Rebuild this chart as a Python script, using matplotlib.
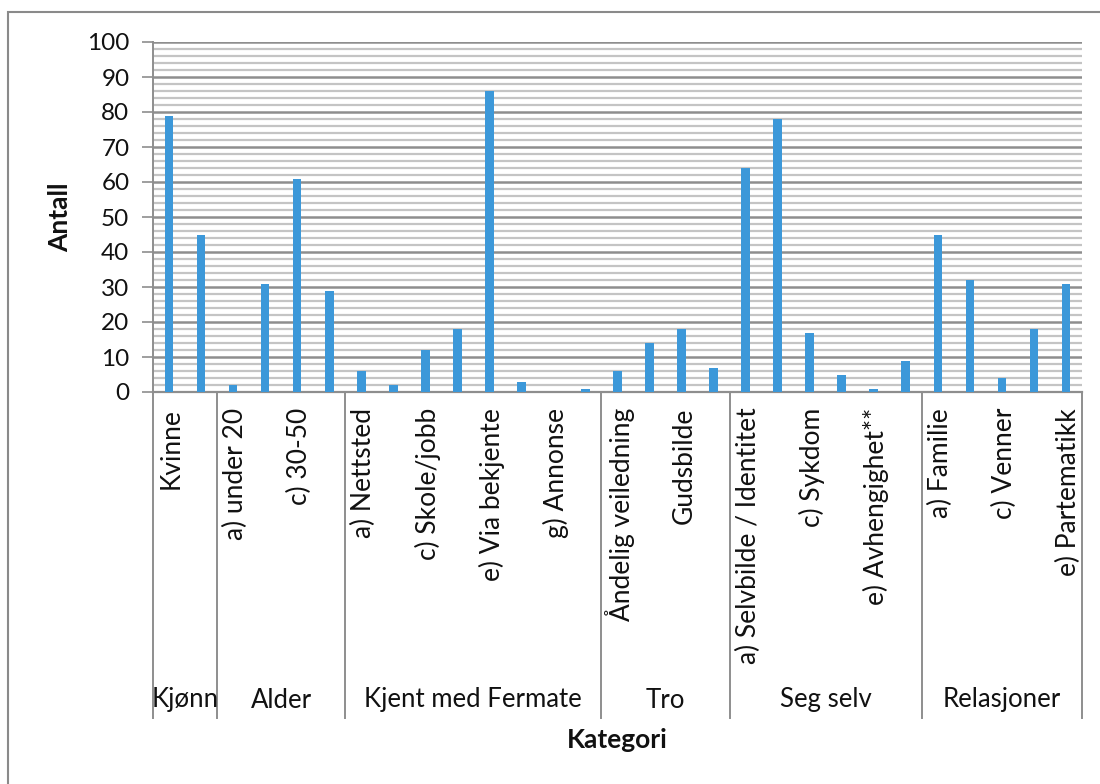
import matplotlib
matplotlib.use("Agg")
import matplotlib.pyplot as plt
from matplotlib.patches import Rectangle
import matplotlib.transforms as mtransforms

plt.rcParams['font.family'] = ['Lato', 'DejaVu Sans']

# ---- data ----
groups = ["Kjønn", "Alder", "Kjent med Fermate", "Tro", "Seg selv", "Relasjoner"]
kjonn_labels = ["Kvinne", "Mann"]
kjonn_values = [79, 45]
alder_labels = ["a) under 20", "b) 20-30", "c) 30-50", "d) over 50"]
alder_values = [2, 31, 61, 29]
kjent_labels = ["a) Nettsted", "b)", "c) Skole/jobb", "d)", "e) Via bekjente", "f)", "g) Annonse", "h)"]
kjent_values = [6, 2, 12, 18, 86, 3, 0, 1]
tro_labels = ["Åndelig veiledning", "b)", "Gudsbilde", "d)"]
tro_values = [6, 14, 18, 7]
seg_labels = ["a) Selvbilde / Identitet", "b)", "c) Sykdom", "d)", "e) Avhengighet**", "f)"]
seg_values = [64, 78, 17, 5, 1, 9]
rel_labels = ["a) Familie", "b)", "c) Venner", "d)", "e) Partematikk"]
rel_values = [45, 32, 4, 18, 31]

group_labels = [kjonn_labels, alder_labels, kjent_labels, tro_labels, seg_labels, rel_labels]
group_values = [kjonn_values, alder_values, kjent_values, tro_values, seg_values, rel_values]

labels = [l for g in group_labels for l in g]
values = [v for g in group_values for v in g]
sizes = [len(g) for g in group_labels]

BAR = "#3c98d9"
TXT = "#111111"
LINE = "#8e8e8e"

fig = plt.figure(figsize=(11, 7.84), dpi=100)
ax = fig.add_axes([153/1100, 0.5, 929/1100, 350/784])

x = list(range(len(values)))
ax.bar(x, values, width=0.27, color=BAR, zorder=3)

ax.set_xlim(-0.5, len(values) - 0.5)
ax.set_ylim(0, 100)
ax.set_yticks(range(0, 101, 10))
ax.set_yticks(range(0, 101, 2), minor=True)
ax.grid(axis='y', which='minor', color='#c4c4c4', lw=1.6, zorder=1)
ax.grid(axis='y', which='major', color=LINE, lw=1.8, zorder=2)
ax.tick_params(axis='y', which='major', length=8, width=1.2, color=LINE,
               labelsize=17.5, pad=9, labelcolor=TXT)
ax.tick_params(axis='y', which='minor', length=0)
ax.set_xticks([])
for s in ['top', 'right']:
    ax.spines[s].set_visible(False)
ax.spines['left'].set_color(LINE)
ax.spines['left'].set_linewidth(1.4)
ax.spines['bottom'].set_color(LINE)
ax.spines['bottom'].set_linewidth(1.6)

trans = mtransforms.blended_transform_factory(ax.transData, ax.transAxes)

# category labels (every other shown, as in reference)
for i, lab in enumerate(labels):
    if i % 2 == 0:
        ax.text(i + 0.08, -0.045, lab, rotation=90, ha='center', va='top',
                fontsize=19, color=TXT, transform=trans, clip_on=False)

# group separators and labels
ybot = -0.931
start = 0
bounds = [-0.5]
for g, n in zip(groups, sizes):
    end = start + n
    bounds.append(end - 0.5)
    ax.text((start + end - 1) / 2, -0.88, g, ha='center', va='center',
            fontsize=18.5, color=TXT, transform=trans, clip_on=False)
    start = end
for b in bounds:
    ax.plot([b, b], [0, ybot], transform=trans, color=LINE, lw=1.4,
            clip_on=False)

ax.set_ylabel("Antall", fontsize=19, fontweight='bold', color=TXT)
ax.yaxis.set_label_coords(-0.0872, 0.5)
fig.text(617/1100, 1 - 740/784, "Kategori", ha='center', va='center',
         fontsize=19, fontweight='bold', color=TXT)

# outer chart frame
fig.patches.append(Rectangle((8/1100, -0.2), 1.2, 0.2 + (784 - 12)/784,
                             transform=fig.transFigure, fill=False,
                             edgecolor='#8a8a8a', lw=1.5, clip_on=False))

fig.savefig("out.png", dpi=100)
